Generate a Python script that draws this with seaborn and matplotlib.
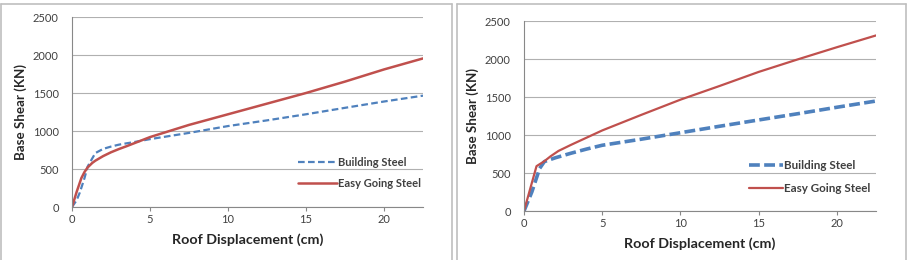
import numpy as np
import pandas as pd
import matplotlib
matplotlib.use("Agg")
import matplotlib.pyplot as plt
import seaborn as sns

# ---- data ----
# left panel
left_bs_x = [0, 0.3, 0.5, 0.8, 1.0, 1.3, 1.5, 2, 2.5, 3, 3.5, 4, 5, 7.5, 10, 12.5, 15, 17.5, 20, 22.5]
left_bs_y = [0, 90, 190, 380, 530, 640, 710, 765, 795, 820, 838, 855, 893, 975, 1065, 1140, 1220, 1305, 1388, 1465]
left_eg_x = [0, 0.3, 0.6, 0.8, 1.0, 1.3, 1.5, 2, 2.5, 3, 3.5, 4, 4.5, 5, 7.5, 10, 12.5, 15, 17.5, 20, 22.5]
left_eg_y = [0, 200, 380, 460, 520, 580, 610, 670, 720, 762, 800, 840, 880, 920, 1080, 1220, 1360, 1500, 1650, 1810, 1955]
# right panel
right_bs_x = [0, 0.5, 1.0, 1.3, 2, 3, 4, 5, 7.5, 10, 12.5, 15, 17.5, 20, 22.5]
right_bs_y = [0, 250, 560, 650, 700, 760, 815, 865, 945, 1030, 1115, 1198, 1280, 1365, 1447]
right_eg_x = [0, 0.8, 1.3, 1.7, 2.2, 3, 4, 5, 7.5, 10, 12.5, 15, 17.5, 20, 22.5]
right_eg_y = [0, 590, 655, 720, 790, 870, 965, 1060, 1265, 1465, 1645, 1830, 1995, 2155, 2310]

series_names = ["Building Steel", "Easy Going Steel"]
x_ticks = [0, 5, 10, 15, 20]
y_ticks = [0, 500, 1000, 1500, 2000, 2500]

blue = "#4F81BD"
red = "#C0504D"

sns.set_style("white")
plt.rcParams["font.family"] = ["Lato", "DejaVu Sans"]

fig = plt.figure(figsize=(9.11, 2.60), dpi=100)

# panel frames
for (x0, x1) in [(1 / 911, 452 / 911), (457 / 911, 906 / 911)]:
    fig.add_artist(plt.Line2D([x0, x1], [0.985, 0.985], color="#BFBFBF", lw=1.2))
    fig.add_artist(plt.Line2D([x0, x0], [0.0, 0.985], color="#BFBFBF", lw=1.2))
    fig.add_artist(plt.Line2D([x1, x1], [0.0, 0.985], color="#BFBFBF", lw=1.2))


def make_df(bx, by, ex, ey):
    d1 = pd.DataFrame({"x": bx, "y": by, "s": series_names[0]})
    d2 = pd.DataFrame({"x": ex, "y": ey, "s": series_names[1]})
    return pd.concat([d1, d2], ignore_index=True)


def draw(ax, df, bs_lw, eg_lw, dash, leg_anchor, hlen, lspace, lfs):
    sns.lineplot(data=df, x="x", y="y", hue="s", style="s",
                 palette={series_names[0]: blue, series_names[1]: red},
                 dashes={series_names[0]: dash, series_names[1]: ""},
                 sort=False, ax=ax, legend=False)
    ax.lines[0].set_linewidth(bs_lw)
    ax.lines[1].set_linewidth(eg_lw)
    ax.set_xlim(0, 22.5)
    ax.set_ylim(0, 2500)
    ax.set_xticks(x_ticks)
    ax.set_yticks(y_ticks)
    ax.yaxis.grid(True, color="#B0B0B0", lw=0.8)
    ax.set_axisbelow(True)
    for s in ["top", "right"]:
        ax.spines[s].set_visible(False)
    ax.spines["left"].set_color("#888888")
    ax.spines["bottom"].set_color("#888888")
    ax.tick_params(axis="x", which="both", bottom=True, length=3, color="#888888",
                   labelsize=8, labelcolor="#404040", pad=2)
    ax.tick_params(axis="y", left=False, labelsize=8, labelcolor="#404040", pad=6)
    ax.set_xlabel("Roof Displacement (cm)", fontsize=10.3, fontweight="bold",
                  color="#262626", labelpad=6)
    ax.set_ylabel("Base Shear (KN)", fontsize=9.6, fontweight="bold", color="#262626")
    h = [plt.Line2D([], [], color=blue, lw=bs_lw, dashes=dash),
         plt.Line2D([], [], color=red, lw=eg_lw)]
    leg = ax.legend(h, series_names, loc="center left", bbox_to_anchor=leg_anchor,
                    frameon=False, fontsize=lfs, handlelength=hlen, handletextpad=0.1,
                    labelspacing=lspace)
    for t in leg.get_texts():
        t.set_fontweight("bold")
        t.set_color("#404040")


ax1 = fig.add_axes([72 / 911, 53 / 260, 351 / 911, 190 / 260])
draw(ax1, make_df(left_bs_x, left_bs_y, left_eg_x, left_eg_y), 1.6, 1.8, (3, 1.5),
     (0.615, 0.18), 3.5, 0.85, 8)

ax2 = fig.add_axes([524 / 911, 49 / 260, 352 / 911, 190 / 260])
draw(ax2, make_df(right_bs_x, right_bs_y, right_eg_x, right_eg_y), 2.6, 1.6, (3, 1.2),
     (0.61, 0.18), 2.9, 1.05, 8.4)

fig.savefig("out.png", dpi=100)
